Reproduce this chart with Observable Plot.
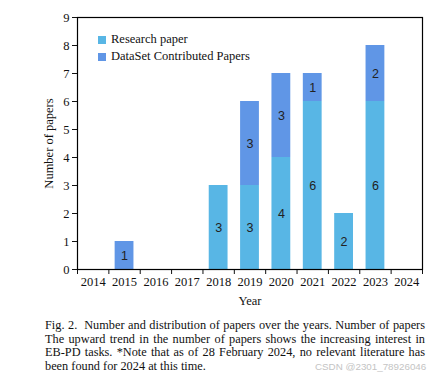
<!DOCTYPE html>
<html>
<head>
<meta charset="utf-8">
<script src="https://cdn.jsdelivr.net/npm/d3@7"></script>
<script src="https://cdn.jsdelivr.net/npm/@observablehq/plot@0.6"></script>
<style>
  body { margin: 0; background: #fff; }
  #wrap { position: relative; width: 432px; height: 379px; overflow: hidden; }
  #legend { position: absolute; left: 98px; top: 31px; font-family: "Liberation Serif", serif; font-size: 12.5px; color: #111; }
  #legend .row { display: flex; align-items: center; height: 17px; }
  #legend .sw { width: 8px; height: 8px; margin-right: 5px; }
  .cap { position: absolute; left: 45px; width: 380px; height: 13.5px; font-family: "Liberation Serif", serif; font-size: 12.3px; line-height: 13.5px; white-space: nowrap; text-align: justify; text-align-last: justify; color: #111; }
  .cap.last { width: auto; text-align: left; text-align-last: left; }
  #wm { position: absolute; left: 315px; top: 361px; white-space: nowrap; font-family: "Liberation Sans", sans-serif; font-size: 9.8px; color: #c4c4c4; }
</style>
</head>
<body>
<div id="wrap">
  <div id="chart"></div>
  <div id="legend"></div>
  <div id="caption"></div>
  <div id="wm">CSDN @2301_78926046</div>
</div>
<script>
const years = [2014, 2015, 2016, 2017, 2018, 2019, 2020, 2021, 2022, 2023, 2024];
const research = [0, 0, 0, 0, 3, 3, 4, 6, 2, 6, 0];
const dataset  = [0, 1, 0, 0, 0, 3, 3, 1, 0, 2, 0];
const seriesNames = ["Research paper", "DataSet Contributed Papers"];
const seriesColors = ["#58b6e5", "#6096e6"];
const yTicks = [0, 1, 2, 3, 4, 5, 6, 7, 8, 9];
const captionLines = [
  "Fig. 2.\u00a0 Number and distribution of papers over the years. Number of papers",
  "The upward trend in the number of papers shows the increasing interest in",
  "EB-PD tasks. *Note that as of 28 February 2024, no relevant literature has",
  "been found for 2024 at this time."
];

const halfBar = 0.3;
const rows = [];
years.forEach((yr, i) => {
  if (research[i] > 0) rows.push({year: yr, s: seriesNames[0], y1: 0, y2: research[i], v: research[i]});
  if (dataset[i] > 0) rows.push({year: yr, s: seriesNames[1], y1: research[i], y2: research[i] + dataset[i], v: dataset[i]});
});
const boundaries = years.map(y => y - 0.5).concat([years[years.length - 1] + 0.5]);

const chart = Plot.plot({
  width: 432,
  height: 310,
  marginTop: 17,
  marginBottom: 41,
  marginLeft: 77,
  marginRight: 10,
  style: { fontFamily: "Liberation Serif, serif", fontSize: "12.5px", color: "#111", background: "#fff" },
  x: { domain: [boundaries[0], boundaries[boundaries.length - 1]] },
  y: { domain: [0, 9] },
  color: { domain: seriesNames, range: seriesColors },
  marks: [
    Plot.rectY(rows, { x1: d => d.year - halfBar, x2: d => d.year + halfBar, y1: "y1", y2: "y2", fill: "s" }),
    Plot.text(rows, { x: "year", y: d => (d.y1 + d.y2) / 2, text: "v", fontFamily: "Liberation Sans, sans-serif", fontSize: 12.5, fill: "#222" }),
    Plot.axisY(yTicks, { tickSize: 5, tickPadding: 3, tickFormat: d => String(d), label: "Number of papers", labelAnchor: "center", labelArrow: "none", labelOffset: 33, fontSize: 12.5 }),
    Plot.axisX(boundaries, { tickSize: 5, tickFormat: () => "", label: null }),
    Plot.axisX(years, { tickSize: 0, tickPadding: 8, tickFormat: d => String(d), label: "Year", labelAnchor: "center", labelArrow: "none", labelOffset: 35, fontSize: 12.5 }),
    Plot.frame({ stroke: "#000", strokeWidth: 1.2 })
  ]
});
document.getElementById("chart").appendChild(chart);

const legend = document.getElementById("legend");
seriesNames.forEach((n, i) => {
  const row = document.createElement("div");
  row.className = "row";
  const sw = document.createElement("div");
  sw.className = "sw";
  sw.style.background = seriesColors[i];
  const t = document.createElement("span");
  t.textContent = n;
  row.appendChild(sw);
  row.appendChild(t);
  legend.appendChild(row);
});

const cap = document.getElementById("caption");
captionLines.forEach((line, i) => {
  const d = document.createElement("div");
  d.className = "cap" + (i === captionLines.length - 1 ? " last" : "");
  d.style.top = (319 + i * 13.5) + "px";
  d.textContent = line;
  cap.appendChild(d);
});
</script>
</body>
</html>
